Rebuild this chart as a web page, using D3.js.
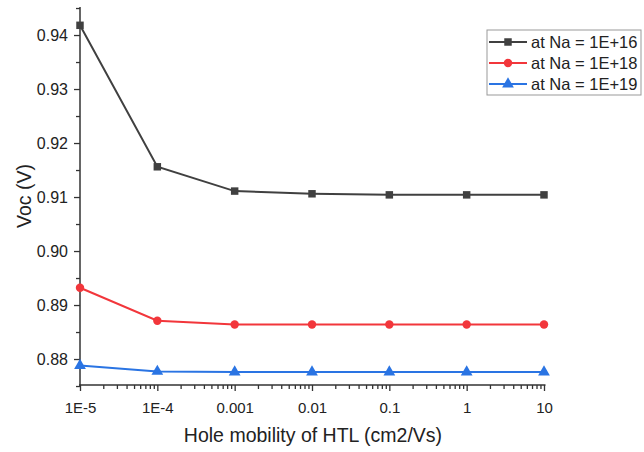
<!DOCTYPE html>
<html>
<head>
<meta charset="utf-8">
<script src="https://cdn.jsdelivr.net/npm/d3@7"></script>
<style>
  html, body { margin: 0; padding: 0; background: #fff; }
  svg { display: block; font-family: "Liberation Sans", Arial, sans-serif; }
</style>
</head>
<body>
<svg id="chart" width="644" height="452"></svg>
<script>
// Hole mobility of the HTL (cm2/Vs)
const mobility = [1e-5, 1e-4, 1e-3, 1e-2, 1e-1, 1, 10];
const xTickLabels = ["1E-5", "1E-4", "0.001", "0.01", "0.1", "1", "10"];

// Open-circuit voltage (V) for three acceptor densities
const seriesNames = ["at Na = 1E+16", "at Na = 1E+18", "at Na = 1E+19"];
const vocNa16 = [0.9418, 0.9156, 0.9111, 0.9106, 0.9104, 0.9104, 0.9104];
const vocNa18 = [0.8932, 0.8871, 0.8864, 0.8864, 0.8864, 0.8864, 0.8864];
const vocNa19 = [0.8788, 0.8777, 0.8776, 0.8776, 0.8776, 0.8776, 0.8776];

const yTicks = [0.88, 0.89, 0.90, 0.91, 0.92, 0.93, 0.94];

const colors = ["#404040", "#f2363b", "#2a74e3"];
const shapes = [d3.symbolSquare, d3.symbolCircle, d3.symbolTriangle];
const markerSizes = [56, 56, 60];

const svg = d3.select("#chart");

const x = d3.scaleLog().domain([1e-5, 10]).range([80, 544]);
const y = d3.scaleLinear().domain([0.87519, 0.94519]).range([385, 7]);

// x axis with log minor ticks
const minorX = [];
for (let e = -5; e < 1; e++) for (let m = 2; m <= 9; m++) minorX.push(m * Math.pow(10, e));

const gx = svg.append("g").attr("transform", "translate(0,385)");
gx.call(d3.axisBottom(x).tickValues(minorX).tickSize(4).tickFormat(""))
  .call(g => g.select(".domain").remove());
gx.append("g").call(d3.axisBottom(x).tickValues(mobility)
    .tickFormat((d, i) => xTickLabels[i]).tickSize(6).tickSizeOuter(0).tickPadding(11))
  .call(g => g.selectAll("text").attr("font-size", 15).attr("fill", "#222")
    .attr("font-family", "Liberation Sans, Arial, sans-serif"));
gx.selectAll("line").attr("stroke", "#333").attr("stroke-width", 1.3);
gx.selectAll(".domain").attr("stroke", "#333").attr("stroke-width", 1.5)
  .attr("d", "M79,0H545.5");

// y axis with minor ticks at the half steps
const minorY = [0.875, 0.885, 0.895, 0.905, 0.915, 0.925, 0.935, 0.945];
const gy = svg.append("g").attr("transform", "translate(80,0)");
gy.call(d3.axisLeft(y).tickValues(minorY).tickSize(4).tickFormat(""))
  .call(g => g.select(".domain").remove());
gy.append("g").call(d3.axisLeft(y).tickValues(yTicks)
    .tickFormat(d3.format(".2f")).tickSize(6).tickSizeOuter(0).tickPadding(6))
  .call(g => g.selectAll("text").attr("font-size", 16).attr("fill", "#222")
    .attr("font-family", "Liberation Sans, Arial, sans-serif"));
gy.selectAll("line").attr("stroke", "#333").attr("stroke-width", 1.3);
gy.selectAll(".domain").attr("stroke", "#333").attr("stroke-width", 1.5)
  .attr("d", `M0,${y.range()[1]}V386`);

// axis titles
svg.append("text").attr("x", 313).attr("y", 442).attr("text-anchor", "middle")
  .attr("font-size", 19.5).attr("fill", "#222").text("Hole mobility of HTL (cm2/Vs)");
svg.append("text").attr("transform", "translate(31,196) rotate(-90)")
  .attr("text-anchor", "middle").attr("font-size", 19.5).attr("fill", "#222").text("Voc (V)");

// series
const allSeries = [vocNa16, vocNa18, vocNa19];
const line = d3.line().x((d, i) => x(mobility[i])).y(d => y(d));
allSeries.forEach((vals, s) => {
  const g = svg.append("g");
  g.append("path").datum(vals).attr("d", line).attr("fill", "none")
    .attr("stroke", colors[s]).attr("stroke-width", 2);
  g.selectAll("path.m").data(vals).join("path").attr("class", "m")
    .attr("transform", (d, i) => `translate(${x(mobility[i])},${y(d)})`)
    .attr("d", d3.symbol().type(shapes[s]).size(markerSizes[s]))
    .attr("fill", colors[s]);
});

// legend
const lg = svg.append("g");
lg.append("rect").attr("x", 487).attr("y", 30).attr("width", 154).attr("height", 65)
  .attr("fill", "#fff").attr("stroke", "#999").attr("stroke-width", 1);
seriesNames.forEach((name, s) => {
  const cy = 42 + s * 21;
  lg.append("line").attr("x1", 489).attr("x2", 527).attr("y1", cy).attr("y2", cy)
    .attr("stroke", colors[s]).attr("stroke-width", 2);
  lg.append("path").attr("transform", `translate(508,${cy})`)
    .attr("d", d3.symbol().type(shapes[s]).size(markerSizes[s])).attr("fill", colors[s]);
  lg.append("text").attr("x", 531).attr("y", cy + 6).attr("font-size", 16.5)
    .attr("fill", "#222").text(name);
});
</script>
</body>
</html>
